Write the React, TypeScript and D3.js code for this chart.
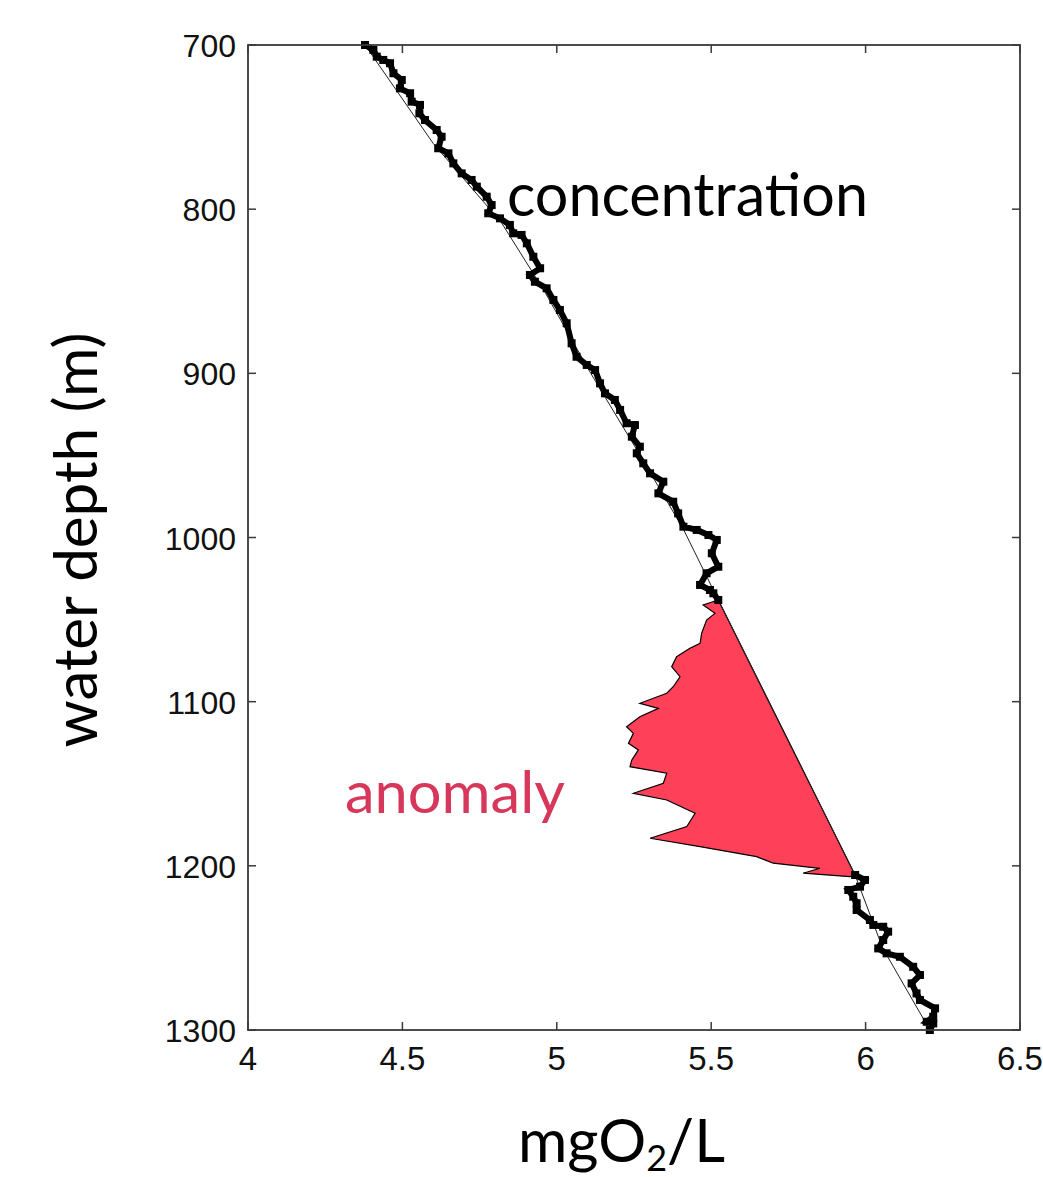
import React from "react";
import * as d3 from "d3";

// ---- data ----
// concentration trace above the anomaly (depth m, mgO2/L)
const upperDepth = [700, 703.0, 707.1, 709.1, 711.1, 717.2, 721.3, 726.4, 729.4, 734.5, 736.5, 741.6, 745.7, 751.8, 755.9, 762.9, 766.0, 772.1, 778.2, 782.2, 786.3, 792.4, 797.5, 802.5, 805.6, 809.6, 814.7, 815.7, 820.8, 829.0, 836.0, 840.1, 844.2, 848.2, 855.3, 861.4, 869.5, 881.7, 889.9, 894.9, 898.0, 906.1, 912.2, 916.2, 922.3, 930.4, 931.5, 938.6, 944.7, 948.7, 954.8, 960.9, 966.0, 973.1, 978.2, 985.3, 993.4, 995.4, 998.5, 1001.5, 1009.6, 1017.8, 1021.8, 1028.9, 1032.0, 1034.0, 1038.1];
const upperConc = [4.379, 4.406, 4.417, 4.438, 4.46, 4.471, 4.498, 4.492, 4.525, 4.53, 4.557, 4.555, 4.573, 4.611, 4.627, 4.616, 4.649, 4.665, 4.692, 4.724, 4.741, 4.773, 4.789, 4.778, 4.816, 4.848, 4.859, 4.886, 4.903, 4.924, 4.946, 4.913, 4.929, 4.967, 4.989, 5.01, 5.032, 5.048, 5.064, 5.097, 5.124, 5.14, 5.156, 5.188, 5.205, 5.226, 5.253, 5.243, 5.269, 5.259, 5.28, 5.302, 5.345, 5.329, 5.377, 5.393, 5.41, 5.453, 5.491, 5.518, 5.502, 5.523, 5.485, 5.464, 5.496, 5.507, 5.523];

// concentration trace inside the anomaly
const anomalyDepth = [1038.1, 1041.1, 1046.2, 1050.3, 1058.4, 1064.5, 1067.5, 1072.6, 1078.7, 1084.8, 1090.9, 1094.9, 1101.0, 1104.1, 1109.2, 1115.3, 1119.3, 1125.4, 1129.4, 1135.5, 1139.6, 1143.6, 1149.7, 1155.8, 1159.9, 1168.0, 1176.1, 1183.2, 1188.3, 1194.4, 1198.4, 1201.5, 1204.5, 1206.6, 1205.6];
const anomalyConc = [5.523, 5.474, 5.512, 5.485, 5.469, 5.464, 5.431, 5.388, 5.372, 5.399, 5.377, 5.356, 5.269, 5.329, 5.269, 5.226, 5.248, 5.232, 5.264, 5.243, 5.237, 5.356, 5.345, 5.248, 5.356, 5.448, 5.421, 5.302, 5.464, 5.647, 5.701, 5.852, 5.798, 5.949, 5.966];

// concentration trace below the anomaly
const lowerDepth = [1205.6, 1208.6, 1212.7, 1214.7, 1218.8, 1222.8, 1226.9, 1233.0, 1236.0, 1237.1, 1240.1, 1245.2, 1250.3, 1253.3, 1255.4, 1261.5, 1266.5, 1271.6, 1277.7, 1281.7, 1286.8, 1291.9, 1295.0, 1296.0, 1300];
const lowerConc = [5.966, 5.998, 5.982, 5.944, 5.96, 5.971, 5.971, 6.014, 6.025, 6.057, 6.073, 6.057, 6.041, 6.068, 6.111, 6.154, 6.176, 6.149, 6.165, 6.176, 6.225, 6.219, 6.198, 6.219, 6.208];

// smooth background profile (thin line)
const backgroundDepth = [700, 760, 808, 850, 900, 950, 995, 1038.1, 1205.6, 1250, 1300];
const backgroundConc = [4.379, 4.6, 4.82, 4.96, 5.11, 5.27, 5.41, 5.523, 5.966, 6.055, 6.208];

const xTicks = [4, 4.5, 5, 5.5, 6, 6.5];
const xTickLabels = ["4", "4.5", "5", "5.5", "6", "6.5"];
const yTicks = [700, 800, 900, 1000, 1100, 1200, 1300];
const yTickLabels = ["700", "800", "900", "1000", "1100", "1200", "1300"];

const W = 1043;
const H = 1177;
const left = 248, right = 1020, top = 45, bottom = 1030;

export default function App() {
  const x = d3.scaleLinear().domain([4, 6.5]).range([left, right]);
  const y = d3.scaleLinear().domain([700, 1300]).range([top, bottom]);

  const line = d3
    .line<[number, number]>()
    .x((d) => x(d[1]))
    .y((d) => y(d[0]));

  const zip = (a: number[], b: number[]) => a.map((v, i) => [v, b[i]] as [number, number]);
  const upper = zip(upperDepth, upperConc);
  const lower = zip(lowerDepth, lowerConc);
  const anomaly = zip(anomalyDepth, anomalyConc);
  const background = zip(backgroundDepth, backgroundConc);

  // polygon: anomaly trace down, then background line back up
  const bgInAnomaly = background.filter((d) => d[0] >= 1038.1 && d[0] <= 1205.6).reverse();
  const polyPts = [...anomaly, ...bgInAnomaly];
  const polyPath = line(polyPts) + "Z";

  const tickLen = 8;
  const axisColor = "#3a3a3a";
  const tickFont = "'Liberation Sans', Arial, Helvetica, sans-serif";
  const labelFont = "Lato, 'Open Sans', sans-serif";

  const markers = [...upper, ...lower];

  return (
    <svg
      width={W}
      height={H}
      style={{ position: "absolute", left: 0, top: 0, display: "block", background: "#fff" }}
    >
      <rect x={0} y={0} width={W} height={H} fill="#fff" />
      {/* anomaly polygon */}
      <path d={polyPath} fill="#fe4059" stroke="#000" strokeWidth={1.2} strokeLinejoin="miter" />
      {/* background thin line */}
      <path d={line(background) || ""} fill="none" stroke="#222" strokeWidth={1} />
      {/* thick concentration trace */}
      <path d={line(upper) || ""} fill="none" stroke="#000" strokeWidth={6} strokeLinejoin="miter" />
      <path d={line(lower) || ""} fill="none" stroke="#000" strokeWidth={6} strokeLinejoin="miter" />
      {markers.map((d, i) => (
        <rect key={i} x={x(d[1]) - 4} y={y(d[0]) - 4} width={8} height={8} fill="#000" />
      ))}

      {/* box */}
      <rect x={left} y={top} width={right - left} height={bottom - top} fill="none" stroke={axisColor} strokeWidth={1.8} />
      {/* ticks */}
      {xTicks.map((t, i) => (
        <g key={"xt" + i}>
          <line x1={x(t)} x2={x(t)} y1={bottom} y2={bottom - tickLen} stroke={axisColor} strokeWidth={1.5} />
          <line x1={x(t)} x2={x(t)} y1={top} y2={top + tickLen} stroke={axisColor} strokeWidth={1.5} />
          <text x={x(t)} y={1070} textAnchor="middle" fontFamily={tickFont} fontSize={33} fill="#111">
            {xTickLabels[i]}
          </text>
        </g>
      ))}
      {yTicks.map((t, i) => (
        <g key={"yt" + i}>
          <line x1={left} x2={left + tickLen} y1={y(t)} y2={y(t)} stroke={axisColor} strokeWidth={1.5} />
          <line x1={right} x2={right - tickLen} y1={y(t)} y2={y(t)} stroke={axisColor} strokeWidth={1.5} />
          <text x={236} y={y(t) + 12} textAnchor="end" fontFamily={tickFont} fontSize={32} fill="#111">
            {yTickLabels[i]}
          </text>
        </g>
      ))}

      {/* annotations */}
      <text x={507} y={216} fontFamily={labelFont} fontSize={60} fill="#000" textLength={361} lengthAdjust="spacingAndGlyphs">
        concentration
      </text>
      <text x={345} y={813} fontFamily={labelFont} fontSize={58} fill="#d6375a" textLength={220} lengthAdjust="spacingAndGlyphs">
        anomaly
      </text>
      {/* axis labels */}
      <text
        transform={`translate(97,540) rotate(-90)`}
        textAnchor="middle"
        fontFamily={labelFont}
        fontSize={60}
        fill="#000"
        textLength={415}
        lengthAdjust="spacingAndGlyphs"
      >
        water depth (m)
      </text>
      <text x={518} y={1162} fontFamily={labelFont} fontSize={60} fill="#000">
        mgO
        <tspan fontSize={36} dy={9}>2</tspan>
        <tspan dy={-9}>/L</tspan>
      </text>
    </svg>
  );
}
